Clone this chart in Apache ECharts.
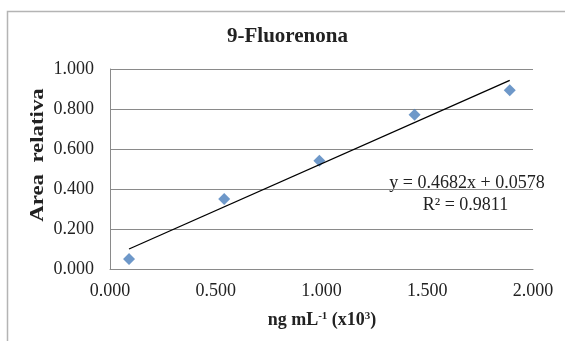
<!DOCTYPE html>
<html>
<head>
<meta charset="utf-8">
<script src="https://cdn.jsdelivr.net/npm/echarts@6/dist/echarts.min.js"></script>
<style>html,body{margin:0;padding:0;background:#fff}#c{width:565px;height:341px}</style>
</head>
<body>
<div id="c"></div>
<script>
const chartTitle = '9-Fluorenona';
const xValues = [0.09, 0.54, 0.99, 1.44, 1.89];
const yValues = [0.05, 0.35, 0.541, 0.771, 0.894];
const slope = 0.4682;
const intercept = 0.0578;
const r2 = 0.9811;
const xTicks = [0, 0.5, 1.0, 1.5, 2.0];
const yTicks = [0, 0.2, 0.4, 0.6, 0.8, 1.0];

const points = xValues.map((x, i) => [x, yValues[i]]);
const xFirst = xValues[0], xLast = xValues[xValues.length - 1];
const trend = [[xFirst, slope * xFirst + intercept], [xLast, slope * xLast + intercept]];

const font = '"Liberation Serif","Times New Roman",serif';
const chart = echarts.init(document.getElementById('c'), null, {renderer: 'canvas'});
chart.setOption({
  animation: false,
  backgroundColor: '#fff',
  grid: {left: 110, right: 32, top: 69, height: 200},
  xAxis: {
    type: 'value', min: xTicks[0], max: xTicks[xTicks.length - 1], interval: 0.5,
    axisLine: {show: true, lineStyle: {color: '#8a8a8a', width: 1}},
    axisTick: {show: false},
    splitLine: {show: false},
    axisLabel: {formatter: v => v.toFixed(3), fontFamily: font, fontSize: 18, color: '#222', margin: 13}
  },
  yAxis: {
    type: 'value', min: yTicks[0], max: yTicks[yTicks.length - 1], interval: 0.2,
    axisLine: {show: true, lineStyle: {color: '#8a8a8a', width: 1}},
    axisTick: {show: false},
    splitLine: {show: true, lineStyle: {color: '#8a8a8a', width: 1}},
    axisLabel: {formatter: v => v.toFixed(3), fontFamily: font, fontSize: 18, color: '#222', margin: 16}
  },
  series: [
    {
      type: 'line', data: trend, symbol: 'none',
      lineStyle: {color: '#000', width: 1.3}, z: 3
    },
    {
      type: 'scatter', data: points, symbol: 'diamond', symbolSize: 12,
      itemStyle: {color: '#4a7ebb'}, z: 2
    }
  ],
  graphic: [
    {type: 'rect', shape: {x: 7.5, y: 11.5, width: 620, height: 400},
     style: {fill: 'none', stroke: '#b4b4b4', lineWidth: 1.5}, silent: true, z: -1},
    {type: 'text', x: 287.5, y: 37,
     style: {text: chartTitle, font: 'bold 21px ' + font, fill: '#222', textAlign: 'center', textVerticalAlign: 'middle'}},
    {type: 'text', x: 38, y: 155, rotation: Math.PI / 2, scaleX: 1.2,
     style: {text: 'Area  relativa', font: 'bold 19px ' + font, fill: '#222', textAlign: 'center', textVerticalAlign: 'middle'}},
    {type: 'text', x: 322, y: 320,
     style: {
       text: '{b|ng mL}{s|-1}{b| (x10}{s|3}{b|)}',
       textAlign: 'center', textVerticalAlign: 'middle',
       rich: {
         b: {fontFamily: font, fontWeight: 'bold', fontSize: 18, fill: '#222', color: '#222'},
         s: {fontFamily: font, fontWeight: 'bold', fontSize: 11, fill: '#222', color: '#222', verticalAlign: 'top', padding: [0, 0, 8, 0]}
       }
     }},
    {type: 'text', x: 467, y: 183,
     style: {text: 'y = ' + slope + 'x + ' + intercept, font: '18px ' + font, fill: '#222', textAlign: 'center', textVerticalAlign: 'middle'}},
    {type: 'text', x: 465.5, y: 205,
     style: {text: 'R² = ' + r2, font: '18px ' + font, fill: '#222', textAlign: 'center', textVerticalAlign: 'middle'}}
  ]
});
</script>
</body>
</html>
